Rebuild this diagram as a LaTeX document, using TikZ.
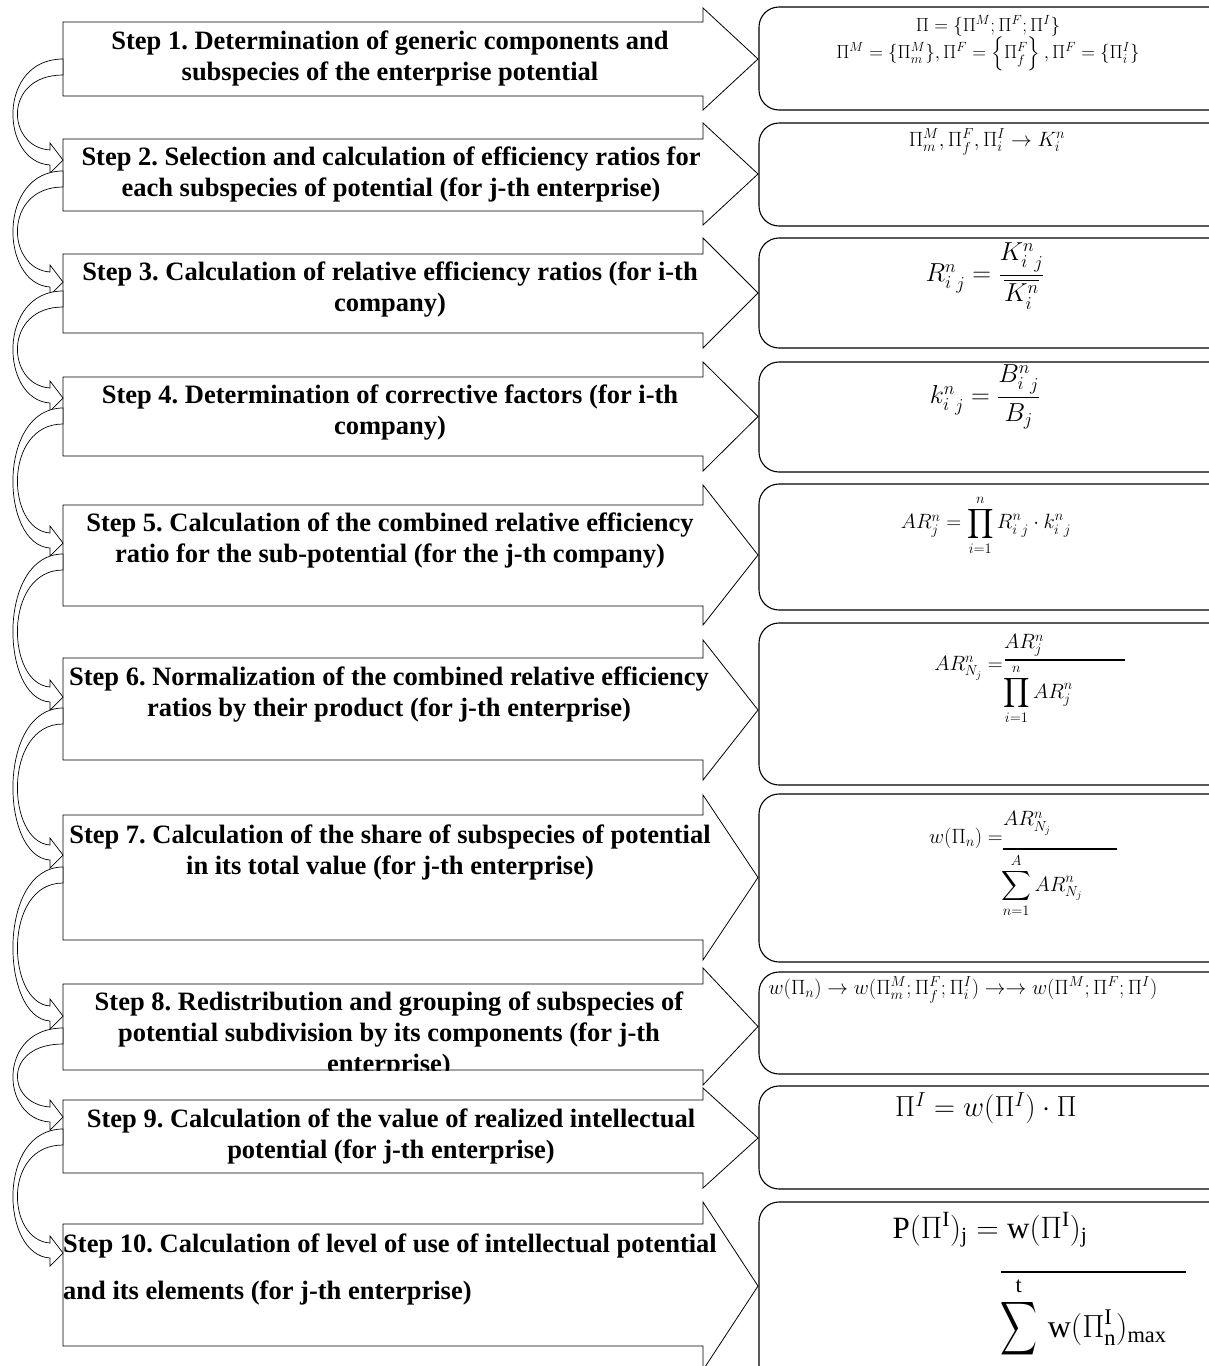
\RequirePackage{fix-cm}
\documentclass[tikz,border=0pt]{standalone}
\usepackage{amsmath,amssymb}
\usepackage{graphicx}
\usepackage{fontspec}
\setmainfont{Liberation Serif}
\usepackage{tikz}
\usetikzlibrary{calc}
\definecolor{fcInk}{HTML}{000000}
\newcommand{\stepfont}{\fontsize{26.5}{31}\selectfont\bfseries}
\frenchspacing

\begin{document}
\begin{tikzpicture}[x=1pt,y=-1pt,
  stepbody/.style={draw=fcInk,fill=white,line width=0.8pt},
  steptext/.style={font=\stepfont,align=center,inner sep=0pt},
  formbox/.style={draw=fcInk,fill=white,line width=1.1pt,rounded corners=20pt},
  bendarrow/.style={draw=fcInk,fill=white,line width=0.7pt},
  formula/.style={inner sep=0pt,font=\fontsize{20.7}{25}\selectfont}]
  \path[use as bounding box] (0,0) rectangle (1209,1366);
  \clip (0,0) rectangle (1209,1366);
  \foreach \n/\ht/\bt/\bb/\hb in {1/8/22/96/110,2/123/139/211/225,
      3/238/254/333/348,4/362/377/456/471,5/485/505/606/625,
      6/640/658/760/780,7/795/815/940/960,8/968/984/1070/1085,
      9/1088/1100/1173/1188,10/1202/1224/1346/1370}{
    \draw[stepbody] (63,\bt) -- (703,\bt) -- (703,\ht)
      -- (758,{(\ht+\hb)/2}) -- (703,\hb) -- (703,\bb) -- (63,\bb) -- cycle;}
  \foreach \n/\t/\b in {1/7/110,2/123/226,3/238/348,4/362/472,5/484/610,
      6/623/785,7/794/962,8/972/1074,9/1086/1189,10/1202/1390}{
    \draw[formbox] (759,\t) rectangle (1235,\b);}
  \foreach \a/\b/\s/\t in {1/2/59/160,2/3/171/282,3/4/291/398,4/5/408/543,
      5/6/554/697,6/7/708/855,7/8/867/1016,8/9/1028/1117,9/10/1129/1253}{
    \coordinate (out\a) at (63,\s);
    \coordinate (in\b) at (63,\t);
    \draw[bendarrow] (out\a) .. controls +(-66,0) and +(-50,-3) .. ($(in\b)+(-13,5)$)
      -- ++(0,8) -- (in\b) -- ++(-13,-17) -- ++(0,7)
      .. controls +(-44,-3) and +(-60,0) .. ($(out\a)+(0,16)$) -- cycle;}
  \node[steptext] (s1) at (390,58)
    {Step 1. Determination of generic components and\\subspecies of the enterprise potential};
  \node[steptext] (s2) at (391,174)
    {Step 2. Selection and calculation of efficiency ratios for\\each subspecies of potential (for j-th enterprise)};
  \node[steptext] (s3) at (390,290)
    {Step 3. Calculation of relative efficiency ratios (for i-th\\company)};
  \node[steptext] (s4) at (390,413)
    {Step 4. Determination of corrective factors (for i-th\\company)};
  \node[steptext] (s5) at (390,541)
    {Step 5. Calculation of the combined relative efficiency\\ratio for the sub-potential (for the j-th company)};
  \node[steptext] (s6) at (389,695)
    {Step 6. Normalization of the combined relative efficiency\\ratios by their product (for j-th enterprise)};
  \node[steptext] (s7) at (390,852)
    {Step 7. Calculation of the share of subspecies of potential\\in its total value (for j-th enterprise)};
  \begin{scope}
    \clip (63,984) rectangle (703,1070);
    \node[steptext] (s8) at (389,1035)
      {Step 8. Redistribution and grouping of subspecies of\\potential subdivision by its components (for j-th\\enterprise)};
  \end{scope}
  \node[steptext] (s9) at (391,1136)
    {Step 9. Calculation of the value of realized intellectual\\potential (for j-th enterprise)};
  \node[steptext,align=left,anchor=west,font=\fontsize{26.5}{47}\selectfont\bfseries] (s10) at (63,1269)
    {Step 10. Calculation of level of use of intellectual potential\\and its elements (for j-th enterprise)};
  \node[formula,align=center,font=\fontsize{19}{25}\selectfont] (f1) at (988,43)
    {$\Pi=\{\Pi^{M};\Pi^{F};\Pi^{I}\}$\\
     $\Pi^{M}=\{\Pi^{M}_{m}\},\Pi^{F}=\left\{\Pi^{F}_{f}\right\},\Pi^{F}=\{\Pi^{I}_{i}\}$};
  \node[formula] (f2) at (987,142) {$\Pi^{M}_{m},\Pi^{F}_{f},\Pi^{I}_{i}\rightarrow K^{n}_{i}$};
  \node[formula,font=\fontsize{26}{30}\selectfont] (f3) at (985,276)
    {${R^{n}_{i}}_{j}=\dfrac{{K^{n}_{i}}_{j}}{\overline{K^{n}_{i}}}$};
  \node[formula,font=\fontsize{26}{30}\selectfont] (f4) at (985,397)
    {${k^{n}_{i}}_{j}=\dfrac{{B^{n}_{i}}_{j}}{B_{j}}$};
  \node[formula] (f5) at (986,525)
    {$AR^{n}_{j}=\displaystyle\prod_{i=1}^{n}{R^{n}_{i}}_{j}\cdot{k^{n}_{i}}_{j}$};
  \node[formula,anchor=east] (f6l) at (1003,668) {$AR^{n}_{N_j}=$};
  \node[formula,anchor=south west] (f6n) at (1004,657) {$AR^{n}_{j}$};
  \node[formula,anchor=north west] (f6d) at (1003,664) {$\displaystyle\prod_{i=1}^{n}AR^{n}_{j}$};
  \draw[line width=1.3pt] (1005,660) -- (1125,660);
  \node[formula,anchor=east] (f7l) at (1003,838) {$w(\Pi_{n})=$};
  \node[formula,anchor=south west] (f7n) at (1003,836) {$AR^{n}_{N_j}$};
  \node[formula,anchor=north west] (f7d) at (1001,853) {$\displaystyle\sum_{n=1}^{A}AR^{n}_{N_j}$};
  \draw[line width=1.3pt] (1003,849) -- (1117,849);
  \node[formula] (f8) at (963,990)
    {$w(\Pi_{n})\rightarrow w(\Pi^{M}_{m};\Pi^{F}_{f};\Pi^{I}_{i})\rightarrow\rightarrow w(\Pi^{M};\Pi^{F};\Pi^{I})$};
  \node[formula,font=\fontsize{29}{33}\selectfont] (f9) at (986,1108) {$\Pi^{I}=w(\Pi^{I})\cdot\Pi$};
  \node[formula,font=\fontsize{31}{34}\selectfont] (f10a) at (990,1230)
    {$\mathrm{P}(\Pi^{\mathrm{I}})_{\mathrm{j}}=\mathrm{w}(\Pi^{\mathrm{I}})_{\mathrm{j}}$};
  \draw[line width=1.3pt] (1001,1272) -- (1186,1272);
  \node[formula,anchor=north west,font=\fontsize{32}{34}\selectfont] (f10b) at (1000,1276)
    {$\displaystyle\mathop{\scalebox{0.8}[1.17]{$\displaystyle\sum$}}\limits^{\mathrm{t}}\,\mathrm{w}(\Pi^{\mathrm{I}}_{\mathrm{n}})_{\mathrm{max}}$};
\end{tikzpicture}
\end{document}
